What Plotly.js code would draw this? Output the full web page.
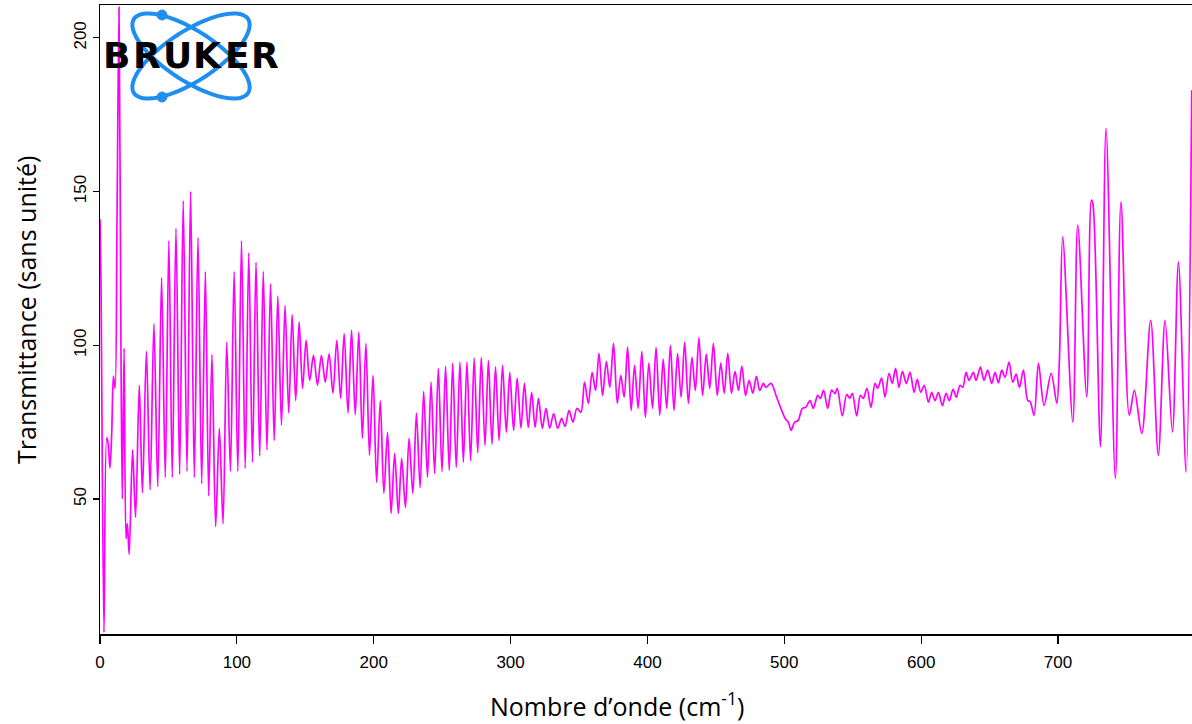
<!DOCTYPE html>
<html><head><meta charset="utf-8">
<script src="https://cdn.plot.ly/plotly-3.0.1.min.js"></script>
<style>html,body{margin:0;padding:0;background:#fff}</style>
</head><body><div id="chart" style="width:1192px;height:724px"></div>
<script>
// Wavenumber (cm-1) of the read extrema of the spectrum
const wavenumber = [
0,0.7,2.9,4.9,6.0,7.3,8.6,9.8,11.0,12.4,13.9,15.3,16.3,17.6,19.0,20.0,21.3,23.8,26.0,28.7,
31.0,33.9,36.6,39.4,42.2,45.0,47.7,50.3,52.8,55.5,58.2,60.8,63.6,66.2,68.9,71.6,
74.3,77.0,79.4,81.8,84.5,87.2,89.9,92.6,95.3,98.0,100.7,103.4,106.1,108.7,111.4,114.0,116.7,119.3,
122.0,124.6,127.3,129.9,132.6,135.2,137.9,140.4,143.0,145.5,148.0,150.6,153.2,156.0,158.9,161.8,
164.6,167.4,170.2,173.0,175.8,178.4,181.2,183.8,186.5,189.1,191.7,194.3,196.9,199.5,202.1,204.8,
207.4,210.1,212.7,215.3,218.0,220.4,223.2,225.8,228.6,231.2,233.9,236.5,239.3,241.9,244.5,247.2,
249.9,252.5,255.2,257.7,260.3,263.0,265.5,268.1,270.8,273.4,276.0,278.6,281.3,283.8,286.4,289.0,
291.6,294.1,296.9,299.4,302.2,304.8,307.6,310.1,312.9,315.4,317.9,320.4,323.2,325.9,328.6,331.5,
334.4,337.3,339.8,342.7,345.6,348.5,351.4,354.0,356.8,359.6,362.1,364.6,367.2,370.0,372.5,375.2,
378.0,380.5,383.0,385.5,388.1,390.6,393.2,395.9,398.5,401.0,403.7,406.3,409.0,411.5,414.1,416.8,
419.4,422.0,424.6,427.2,429.9,432.5,435.0,437.6,440.3,443.0,445.5,448.2,451.0,453.6,456.1,458.7,
461.4,464.0,466.5,469.0,471.7,474.3,477.0,479.6,482.1,484.7,486.5,490.3,494.5,498.1,500.6,503.0,
505.0,507.4,510.0,513.2,515.6,518.8,521.2,524.4,526.3,528.7,531.7,534.6,537.0,538.7,542.4,545.6,
547.8,549.7,552.9,555.6,557.7,560.4,563.3,566.3,568.2,571.1,573.6,576.5,578.9,581.3,583.8,586.3,
589.2,591.9,594.8,597.2,599.7,602.3,605.3,607.7,610.1,612.6,615.5,618.2,620.6,623.3,625.7,628.4,
630.4,632.8,635.0,638.1,640.1,643.3,645.9,648.6,651.5,654.0,656.4,658.9,661.3,664.2,666.9,669.4,
671.8,674.7,677.9,679.6,682.5,685.7,689.8,695.0,699.1,701.0,703.4,710.8,714.4,721.0,724.4,725.5,
731.0,735.1,741.9,746.0,752.1,755.8,761.2,767.7,773.3,778.2,783.6,788.0,793.6,797.7];
// Transmittance (no unit) at those wavenumbers
const transmittance = [
141,121,6.5,70,68,60,72,90,86,140,210,100,50,99,37,42,32,66,44,87,
52,98,53,107,54,122,57,134,57,138,58,147,59,150,57,135,
55,124,51,97,41,73,42,101,59,124,59,134,60,130,62,127,64,124,
66,120,69,116,74,113,78,110,82,107.6,86,101.6,88.6,96.7,87,96.7,
88,97.2,84.4,101.6,82.8,103.8,77.9,104.9,77.4,104.3,69.7,100.6,64.2,90.2,55.4,82,
51.8,71.7,45.3,64.8,45.3,63.2,47.2,69.7,51.8,77.9,53.7,85,57,88,58.3,92.5,
58.9,93.2,59.3,94.2,60.3,94.5,61.9,94.5,62.5,95.8,65.1,96.1,67.4,95.1,67.8,93,
69,93.5,71.7,91.2,72.3,89.3,73,87.6,73.3,84.7,73.3,82.7,73,79.5,73,77.8,
73,76.2,73.6,78.8,75,79.5,78.2,88,81.1,91.2,85.3,97.4,83.7,94.8,86.3,100.6,
81.1,90.2,83.1,99.4,78.8,93.5,79.5,98,76.5,94.2,79.5,99.3,77.2,95.5,79.5,100,
78.8,97.4,83.1,101,81.1,96.1,85.3,102.5,83.7,97.1,86,100.6,83.7,94.2,84.4,97.4,
84.4,91.5,85.3,93.2,83.7,88.6,84.4,89.9,85.3,87.6,86.3,87.6,83,78.8,76.2,74.9,
72.3,74.9,75.5,79.5,79.8,82,79.5,83.7,82.7,85.3,79.5,85.4,84.3,86,77,84,
82.7,84.4,77,83.7,82.7,86,79.8,87.6,86,89.3,83.1,90.9,87.6,92.5,86.3,91.5,
87.6,91.2,84.7,88.9,84.7,87,81.5,84.7,82,84.7,80.4,84.4,82,85.7,83.1,87,
86.3,91.2,88.6,91.2,88.6,92.9,88.6,91.9,87.6,91.2,87.8,91.9,89.6,94.5,88,90.6,
86.3,91.9,82,81.7,77.2,94.1,80.4,90.9,81.1,94.9,135.3,75,139.1,83.2,147.2,146,
67,170.6,56.6,146.7,77.2,85.3,71.3,108.1,64.2,108.1,71.8,127.1,58.7,183];
const xTickValues = [0,100,200,300,400,500,600,700];
const yTickValues = [50,100,150,200];
const xTitle = 'Nombre d\u2019onde (cm<sup>-1</sup>)';
const yTitle = 'Transmittance (sans unit\u00e9)';
const logoLetters = ['B','R','U','K','E','R'];

// Logo geometry helpers (pixel -> paper coordinates of the plot area)
const L = 100, T = 5, W = 1092, H = 629;
const px = x => (x - L) / W;
const py = y => (T + H - y) / H;
function ellipsePath(cx, cy, a, b, deg) {
  const t = deg * Math.PI / 180;
  let d = '';
  for (let i = 0; i <= 72; i++) {
    const u = i / 72 * 2 * Math.PI;
    const ex = a * Math.cos(u), ey = b * Math.sin(u);
    const X = cx + ex * Math.cos(t) - ey * Math.sin(t);
    const Y = cy + ex * Math.sin(t) + ey * Math.cos(t);
    d += (i === 0 ? 'M' : 'L') + px(X).toFixed(5) + ',' + py(Y).toFixed(5);
  }
  return d + 'Z';
}
function circlePath(cx, cy, r) { return ellipsePath(cx, cy, r, r, 0); }
const blue = '#1E8FF0';
const shapes = [
  {type:'path', xref:'paper', yref:'paper', path: ellipsePath(191, 56, 68, 25, 33), line:{color:blue, width:4}, layer:'above'},
  {type:'path', xref:'paper', yref:'paper', path: ellipsePath(191, 56, 68, 25, -33), line:{color:blue, width:4}, layer:'above'},
  {type:'path', xref:'paper', yref:'paper', path: circlePath(162, 15, 5), fillcolor:blue, line:{color:blue, width:1}, layer:'above'},
  {type:'path', xref:'paper', yref:'paper', path: circlePath(162, 97, 5), fillcolor:blue, line:{color:blue, width:1}, layer:'above'}
];
const letterCenters = [116, 147, 177, 207, 237, 265];
const annotations = logoLetters.map((ch, i) => ({
  xref:'paper', yref:'paper', x:px(letterCenters[i]), y:py(56), text:'<b>'+ch+'</b>', showarrow:false,
  xanchor:'center', yanchor:'middle', font:{family:'DejaVu Sans, sans-serif', size:36, color:'#000'}
}));
annotations.push({xref:'paper', yref:'paper', x:px(617), y:py(705), text:xTitle, showarrow:false,
  xanchor:'center', yanchor:'middle', font:{family:'Open Sans, sans-serif', size:25, color:'#000'}});
annotations.push({xref:'paper', yref:'paper', x:px(26), y:py(310), text:yTitle, showarrow:false, textangle:-90,
  xanchor:'center', yanchor:'middle', font:{family:'Open Sans, sans-serif', size:25, color:'#000'}});

const trace = {
  x: wavenumber, y: transmittance, type:'scatter', mode:'lines',
  line:{color:'#FF00FF', width:1.7, shape:'spline', smoothing:0.9},
  hoverinfo:'x+y'
};
const layout = {
  width:1192, height:724,
  margin:{l:L, r:0, t:T, b:724 - T - H},
  paper_bgcolor:'#fff', plot_bgcolor:'#fff',
  showlegend:false,
  font:{family:'Liberation Sans, Arial, sans-serif', color:'#000', size:17},
  xaxis:{range:[0,797.9], tickvals:xTickValues, ticktext:xTickValues.map(String),
    ticks:'outside', ticklen:8, tickwidth:1.2, tickcolor:'#000', ticklabelstandoff:4,
    showline:true, linecolor:'#000', linewidth:1.5, mirror:true,
    showgrid:false, zeroline:false, tickfont:{size:17}},
  yaxis:{range:[6.07,210.7], tickvals:yTickValues, ticktext:yTickValues.map(String),
    ticks:'outside', ticklen:6, tickwidth:1.2, tickcolor:'#000', tickangle:-90,
    showline:true, linecolor:'#000', linewidth:1.5, mirror:false,
    showgrid:false, zeroline:false, tickfont:{size:17}},
  shapes: shapes,
  annotations: annotations
};
Plotly.newPlot('chart', [trace], layout, {displayModeBar:false, staticPlot:true});
</script>
</body></html>
